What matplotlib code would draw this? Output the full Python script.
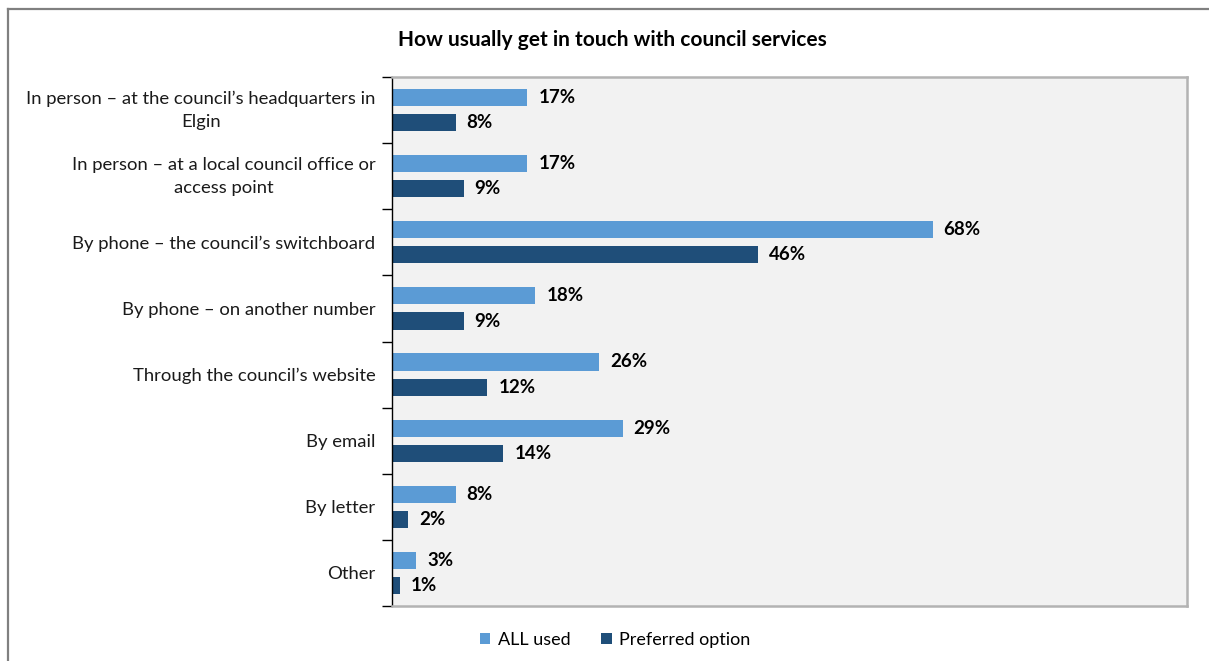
import matplotlib
matplotlib.use("Agg")
import matplotlib.pyplot as plt
from matplotlib.lines import Line2D
import numpy as np

categories = [
    "In person \u2013 at the council\u2019s headquarters in\nElgin",
    "In person \u2013 at a local council office or\naccess point",
    "By phone \u2013 the council\u2019s switchboard",
    "By phone \u2013 on another number",
    "Through the council\u2019s website",
    "By email",
    "By letter",
    "Other",
]
all_used = [17, 17, 68, 18, 26, 29, 8, 3]
preferred = [8, 9, 46, 9, 12, 14, 2, 1]
series_names = ["ALL used", "Preferred option"]

plt.rcParams["font.family"] = ["Lato", "DejaVu Sans"]

W, H = 1209, 661
fig = plt.figure(figsize=(W / 100, H / 100), dpi=100)
ax = fig.add_axes([392 / W, 1 - 606 / H, (1187 - 392) / W, (606 - 77) / H])
ax.set_facecolor("#f2f2f2")

light = "#5b9bd5"
dark = "#1f4e79"
n = len(categories)
y = np.arange(n)
h = 0.26
off = 0.19

ax.barh(y - off, all_used, height=h, color=light, label=series_names[0])
ax.barh(y + off, preferred, height=h, color=dark, label=series_names[1])

for yi, v in zip(y - off, all_used):
    ax.text(v + 1.4, yi, f"{v}%", va="center", ha="left", fontsize=13.5,
            fontweight="bold", color="#000000")
for yi, v in zip(y + off, preferred):
    ax.text(v + 1.4, yi, f"{v}%", va="center", ha="left", fontsize=13.5,
            fontweight="bold", color="#000000")

ax.set_xlim(0, 100)
ax.set_ylim(n - 0.5, -0.5)
ax.set_xticks([])
ax.set_yticks(y)
ax.set_yticklabels(categories, fontsize=13.3, multialignment="center",
                   linespacing=1.55, color="#1a1a1a")
for lbl in ax.get_yticklabels():
    if "\n" in lbl.get_text():
        lbl.set_verticalalignment("center")
ax.tick_params(axis="y", which="major", length=0, pad=12)
ax.set_yticks(np.arange(n + 1) - 0.5, minor=True)
ax.tick_params(axis="y", which="minor", length=7, width=1, color="#000000",
               direction="out")

for side in ["top", "right", "bottom"]:
    ax.spines[side].set_color("#b3b3b3")
    ax.spines[side].set_linewidth(1.8)
ax.spines["left"].set_color("#000000")
ax.spines["left"].set_linewidth(1.0)

fig.text(612 / W, 1 - 40 / H, "How usually get in touch with council services",
         ha="center", va="center", fontsize=15, fontweight="bold")

fig.legend(loc="center", bbox_to_anchor=(615 / W, 1 - 640 / H), ncol=2,
           frameon=False, fontsize=13, handlelength=0.6, handleheight=0.6,
           handletextpad=0.4, columnspacing=1.7)

# outer frame (top and left edges)
fig.add_artist(Line2D([8 / W, 8 / W], [0, 1 - 9 / H], transform=fig.transFigure,
                      color="#808080", linewidth=1.6))
fig.add_artist(Line2D([8 / W, 1], [1 - 9 / H, 1 - 9 / H], transform=fig.transFigure,
                      color="#808080", linewidth=1.6))

fig.savefig("out.png", dpi=100)
